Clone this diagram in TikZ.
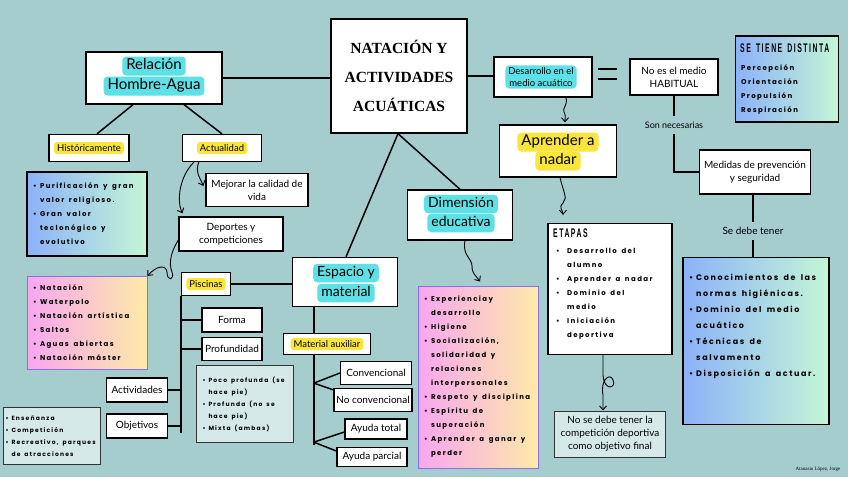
\documentclass[tikz,border=0pt]{standalone}
\usepackage{fontspec}
\setmainfont{Lato}
\newfontfamily\listfont[LetterSpace=20,WordSpace=1.6]{Poppins}
\newfontfamily\titlefont{Liberation Serif}
\newfontfamily\capsfont[LetterSpace=22,WordSpace=1.5]{Liberation Sans}
\usetikzlibrary{arrows.meta,calc}

\definecolor{fondo}{RGB}{165,205,206}
\definecolor{cian}{RGB}{94,225,230}
\definecolor{amarillo}{RGB}{250,229,58}
\definecolor{azulg}{RGB}{140,178,248}
\definecolor{mentag}{RGB}{196,246,214}
\definecolor{rosag}{RGB}{248,166,240}
\definecolor{cremag}{RGB}{253,234,168}
\definecolor{grisc}{RGB}{214,233,233}
\definecolor{violeta}{RGB}{140,110,240}

\newcommand{\vineta}[1][7pt]{\makebox[#1][l]{\textbullet}}
\newcommand{\sangria}[1][7pt]{\hspace*{#1}}

\tikzset{
  caja/.style={draw=black, line width=1.3pt, fill=white, inner sep=2pt},
  grad1/.style={draw=black, line width=1.2pt, left color=azulg, right color=mentag, inner xsep=6pt},
  grad2/.style={draw=violeta, line width=1pt, left color=rosag, right color=cremag, inner xsep=6pt},
  clara/.style={draw=black!80, line width=1pt, fill=grisc, inner xsep=6pt},
  etiqueta/.style={font=\fontsize{10}{13}\selectfont, align=center},
  grande/.style={font=\fontsize{15}{19}\selectfont, text height=11pt, text depth=4pt},
  resalte/.style={fill=cian, rounded corners=4pt, inner xsep=4pt, inner ysep=2pt},
  marca/.style={fill=amarillo, rounded corners=3pt, inner xsep=3pt, inner ysep=2.5pt, font=\fontsize{9.5}{11}\selectfont},
  lista/.style={font=\listfont\bfseries\fontsize{7}{14}\selectfont, align=flush left},
  listachica/.style={font=\listfont\bfseries\fontsize{6}{12}\selectfont, align=flush left},
  listagrande/.style={font=\listfont\bfseries\fontsize{8}{16}\selectfont, align=flush left},
  titulocaps/.style={anchor=west, inner sep=0pt, font=\capsfont\bfseries\fontsize{12.5}{14}\selectfont},
  linea/.style={line width=1.5pt},
  flecha/.style={line width=0.9pt, -{Straight Barb[length=4pt,width=7pt]}}
}

\begin{document}
\begin{tikzpicture}[x=1pt,y=-1pt]
\useasboundingbox (0,0) rectangle (848,477);
\fill[fondo] (0,0) rectangle (848,477);

% nodo central
\node[caja, minimum width=136pt, minimum height=114pt] (nat) at (399,76) {};
\node[font=\titlefont\bfseries\fontsize{15.5}{29}\selectfont, align=center] (natt) at (nat) {NATACIÓN Y\\ACTIVIDADES\\ACUÁTICAS};

% relacion hombre-agua
\node[caja, minimum width=136pt, minimum height=52pt] (rel) at (154,78) {};
\node[resalte, grande] (rel1) at (154,66) {Relación};
\node[resalte, grande] (rel2) at (154,86) {Hombre-Agua};
\node[caja, minimum width=80pt, minimum height=27pt] (hist) at (89,148) {};
\node[marca] (histt) at (hist) {Históricamente};
\node[caja, minimum width=79pt, minimum height=27pt] (act) at (222,148) {};
\node[marca] (actt) at (act) {Actualidad};
\node[grad1, lista, text width=108pt, minimum height=84pt] (puri) at (87,214)
  {\vineta Purificación y gran\\\sangria valor religioso.\\\vineta Gran valor\\\sangria teclonógico y\\\sangria evolutivo};
\node[caja, etiqueta, minimum width=102pt, minimum height=33pt] (mej) at (257,190) {Mejorar la calidad de\\vida};
\node[caja, etiqueta, minimum width=104pt, minimum height=34pt] (dep) at (231,234) {Deportes y\\competiciones};
\node[grad2, lista, text width=108pt, minimum height=93pt] (depo) at (87,323)
  {\vineta Natación\\\vineta Waterpolo\\\vineta Natación artística\\\vineta Saltos\\\vineta Aguas abiertas\\\vineta Natación máster};

% espacio y material
\node[caja, minimum width=105pt, minimum height=49pt] (esp) at (345,282) {};
\node[resalte, font=\fontsize{14}{19}\selectfont, text height=10.5pt, text depth=4pt] (esp1) at (346,273) {Espacio y};
\node[resalte, font=\fontsize{14}{19}\selectfont, text height=10.5pt, text depth=4pt] (esp2) at (346,293) {material};
\node[caja, minimum width=49pt, minimum height=23pt] (pis) at (206,284) {};
\node[marca] (pist) at (pis) {Piscinas};
\node[caja, etiqueta, minimum width=60pt, minimum height=24pt] (forma) at (232,320) {Forma};
\node[caja, etiqueta, minimum width=60pt, minimum height=23pt] (prof) at (232,349) {Profundidad};
\node[clara, listachica, text width=85pt, minimum height=77pt] (poco) at (245,404)
  {\vineta[6pt]Poco profunda (se\\\sangria[6pt]hace pie)\\\vineta[6pt]Profunda (no se\\\sangria[6pt]hace pie)\\\vineta[6pt]Mixta (ambas)};
\node[caja, etiqueta, minimum width=61pt, minimum height=24pt] (activ) at (137,390) {Actividades};
\node[caja, etiqueta, minimum width=61pt, minimum height=24pt] (obj) at (137,426) {Objetivos};
\node[clara, listachica, text width=93pt, inner xsep=2pt, minimum height=57pt] (ense) at (52,436)
  {\vineta[6pt]Enseñanza\\\vineta[6pt]Competición\\\vineta[6pt]Recreativo, parques\\\sangria[6pt]de atracciones};
\node[caja, minimum width=87pt, minimum height=21pt] (mat) at (327,344) {};
\node[marca] (matt) at (mat) {Material auxiliar};
\node[caja, etiqueta, minimum width=71pt, minimum height=23pt] (conv) at (376,373) {Convencional};
\node[caja, etiqueta, minimum width=78pt, minimum height=23pt] (noconv) at (373,400) {No convencional};
\node[caja, etiqueta, minimum width=62pt, minimum height=20pt] (total) at (376,429) {Ayuda total};
\node[caja, etiqueta, minimum width=70pt, minimum height=19pt] (parc) at (372,457) {Ayuda parcial};

% dimension educativa
\node[caja, minimum width=105pt, minimum height=50pt] (dim) at (460,215) {};
\node[resalte, font=\fontsize{14}{19}\selectfont, text height=10.5pt, text depth=4pt] (dim1) at (461,204) {Dimensión};
\node[resalte, font=\fontsize{14}{19}\selectfont, text height=10.5pt, text depth=4pt] (dim2) at (461,223) {educativa};
\node[grad2, lista, text width=108pt, minimum height=182pt] (edu) at (478,377)
  {\vineta Experienciay\\\sangria desarrollo\\\vineta Higiene\\\vineta Socialización,\\\sangria solidaridad y\\\sangria relaciones\\\sangria interpersonales\\\vineta Respeto y disciplina\\\vineta Espíritu de\\\sangria superación\\\vineta Aprender a ganar y\\\sangria perder};

% desarrollo en el medio acuatico
\node[caja, minimum width=98pt, minimum height=40pt] (des) at (543,77) {};
\node[resalte, font=\fontsize{9.5}{12}\selectfont, align=center, inner xsep=3pt] (dest) at (541,77) {Desarrollo en el\\medio acuático};
\node[caja, minimum width=117pt, minimum height=52pt] (apr) at (558,151) {};
\node[resalte, grande, fill=amarillo] (apr1) at (558,142) {Aprender a};
\node[resalte, grande, fill=amarillo] (apr2) at (558,161) {nadar};
\node[caja, minimum width=124pt, minimum height=131pt] (eta) at (610,289) {};
\node[titulocaps] (etat) at (553,233) {\scalebox{0.55}[1]{ETAPAS}};
\node[lista, anchor=north west, inner sep=0pt] (etal) at (556,248)
  {\vineta[11pt]Desarrollo del\\\sangria[11pt]alumno\\\vineta[11pt]Aprender a nadar\\\vineta[11pt]Dominio del\\\sangria[11pt]medio\\\vineta[11pt]Iniciación\\\sangria[11pt]deportiva};
\node[clara, etiqueta, minimum width=111pt, minimum height=46pt] (nose) at (610,434) {No se debe tener la\\competición deportiva\\como objetivo final};

\node[caja, etiqueta, minimum width=88pt, minimum height=36pt] (nohab) at (674,77) {No es el medio\\HABITUAL};
\node[etiqueta, font=\fontsize{9}{10}\selectfont, inner ysep=5pt] (son) at (674,125) {Son necesarias};
\node[caja, etiqueta, minimum width=111pt, minimum height=44pt] (med) at (755,172) {Medidas de prevención\\y seguridad};
\node[etiqueta, inner ysep=5pt] (sedebe) at (753,231) {Se debe tener};
\node[grad1, minimum width=146pt, minimum height=167pt] (cono) at (756,341) {};
\node[listagrande, anchor=north west, inner sep=0pt] (conot) at (689,274)
  {\vineta Conocimientos de las\\\sangria normas higiénicas.\\\vineta Dominio del medio\\\sangria acuático\\\vineta Técnicas de\\\sangria salvamento\\\vineta Disposición a actuar.};
\node[grad1, minimum width=103pt, minimum height=86pt] (dist) at (787,79) {};
\node[titulocaps] (distt) at (740,48) {\scalebox{0.55}[1]{SE TIENE DISTINTA}};
\node[lista, anchor=north west, inner sep=0pt] (distl) at (741,64) {Percepción\\Orientación\\Propulsión\\Respiración};

\node[font=\titlefont\fontsize{5}{6}\selectfont] (firma) at (818,469) {Atanasio López, Jorge};

% conectores
\draw[linea] (rel.east) -- (rel.east -| nat.west);
\draw[linea] ($(rel.south)+(-21,0)$) -- ($(hist.north)+(8,0)$);
\draw[linea] ($(rel.south)+(30,0)$) -- (act.north);
\draw[linea] (nat.east) -- (nat.east -| des.west);
\draw[linea] ($(nat.south)+(-1,0)$) -- ($(esp.north)+(1,0)$);
\draw[linea] ($(nat.south)+(-1,0)$) -- (dim.north);

\draw[flecha] ($(act.south west)+(12,0)$) .. controls +(-14,14) and +(-6,-14) .. ($(dep.north west)+(4,-3)$);
\draw[flecha] ($(act.south west)+(17,0)$) .. controls +(-4,10) and +(-4,-10) .. ($(mej.west)+(-2,-4)$);
\draw[flecha] ($(dep.west)+(0,6)$) .. controls (172,250) and (168,262) .. (172,272)
  .. controls (175,280) and (167,282) .. (167,272) .. controls (166,264) and (156,266) .. (depo.north east);

\draw[linea] (pis.east) -- (pis.east -| esp.west);
\coordinate (ejeP) at (pis.south west);
\draw[linea] (ejeP) -- ++(0,137);
\draw[linea] (forma.west -| ejeP) -- (forma.west);
\draw[linea] (prof.west -| ejeP) -- (prof.west);
\draw[linea] (activ.east) -- (activ.east -| ejeP);
\draw[linea] (obj.east) -- (obj.east -| ejeP);

\coordinate (ejeE) at ($(esp.south west)+(22,0)$);
\draw[linea] (ejeE) -- (ejeE |- mat.north);
\draw[linea] (ejeE |- mat.south) -- ++(0,90);
\coordinate (ramaA) at ($(ejeE |- mat.south)+(0,28)$);
\coordinate (ramaB) at ($(ejeE |- mat.south)+(0,87)$);
\draw[linea] (ramaA) -- (conv.west);
\draw[linea] (ramaA) -- ($(noconv.north west)+(0,2)$);
\draw[linea] (ramaB) -- ($(total.west)+(0,3)$);
\draw[linea] (ramaB) -- ($(parc.west)+(0,-6)$);

\draw[flecha] ($(dim.south)+(5,0)$) .. controls +(-3,15) and +(0,-8) .. (472,266)
  .. controls +(0,8) and +(-4,-6) .. ($(edu.north)+(2,-4)$);

\draw[linea] ($(des.east)+(5,-8)$) -- ++(19,0);
\draw[linea] ($(des.east)+(5,2)$) -- ++(19,0);
\draw[flecha] ($(des.south)+(23,0)$) .. controls +(2,8) and +(-2,-4) .. (564,112)
  .. controls +(2,4) and +(0,-5) .. ($(apr.north)+(7,-2)$);
\draw[flecha] ($(apr.south)+(2,0)$) .. controls +(3,13) and +(5,-5) .. (563,203)
  .. controls +(-5,5) and +(0,-5) .. ($(eta.north)+(-47,-8)$);
\draw[flecha] ($(eta.south)+(-7,0)$) -- (603,375) .. controls (604,392) and (617,388) .. (613,380)
  .. controls (610,372) and (600,380) .. (603,395) -- ($(nose.north)+(-7,0)$);

\draw[linea] (nohab.south) -- (son.north);
\draw[linea] (son.south) |- (med.west);
\draw[linea] (sedebe.north |- med.south) -- (sedebe.north);
\draw[linea] (sedebe.south) -- (sedebe.south |- cono.north);
\end{tikzpicture}
\end{document}
